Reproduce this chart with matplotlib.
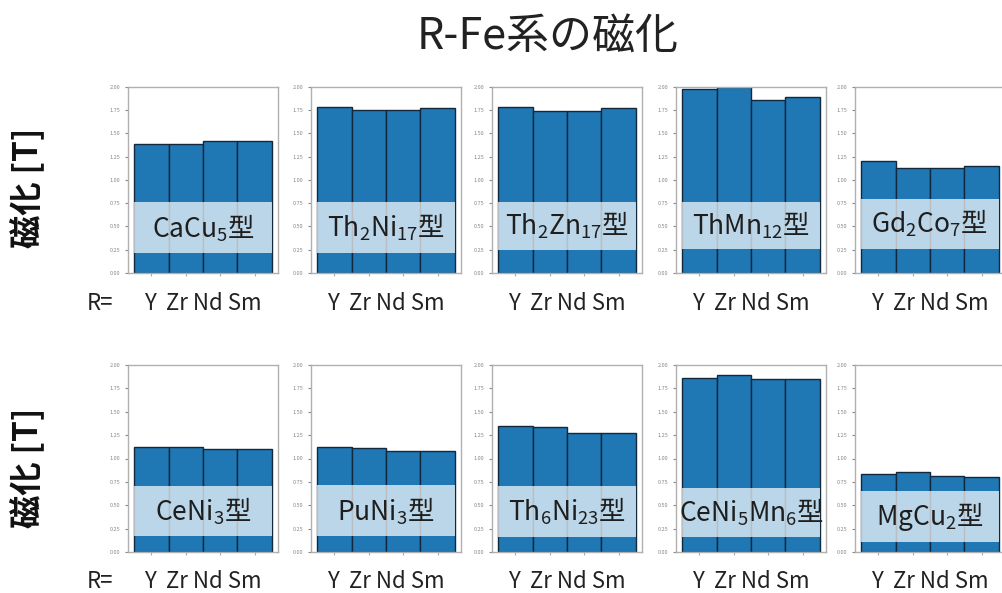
import matplotlib
matplotlib.use("Agg")
import matplotlib.pyplot as plt
from matplotlib.patches import Rectangle

plt.rcParams['font.family'] = ['Noto Sans CJK JP', 'DejaVu Sans']
plt.rcParams['mathtext.fontset'] = 'custom'
plt.rcParams['mathtext.rm'] = 'Noto Sans CJK JP'
plt.rcParams['mathtext.it'] = 'Noto Sans CJK JP'
plt.rcParams['mathtext.default'] = 'rm'

# R elements (x categories)
elements = ["Y", "Zr", "Nd", "Sm"]

# structure types, top row then bottom row
types_top = ["CaCu$_5$型", "Th$_2$Ni$_{17}$型", "Th$_2$Zn$_{17}$型",
             "ThMn$_{12}$型", "Gd$_2$Co$_7$型"]
types_bottom = ["CeNi$_3$型", "PuNi$_3$型", "Th$_6$Ni$_{23}$型",
                "CeNi$_5$Mn$_6$型", "MgCu$_2$型"]

# magnetization [T] for Y, Zr, Nd, Sm
mag_top = [
    [1.39, 1.39, 1.415, 1.415],
    [1.785, 1.753, 1.753, 1.77],
    [1.785, 1.745, 1.745, 1.77],
    [1.975, 1.995, 1.855, 1.89],
    [1.20, 1.13, 1.13, 1.15],
]
mag_bottom = [
    [1.12, 1.12, 1.10, 1.10],
    [1.123, 1.116, 1.084, 1.084],
    [1.346, 1.335, 1.268, 1.275],
    [1.86, 1.896, 1.85, 1.85],
    [0.836, 0.86, 0.815, 0.80],
]

# label band extent (y data units) for each panel
band_top = [(0.21, 0.76), (0.215, 0.767), (0.25, 0.767), (0.26, 0.764), (0.26, 0.80)]
band_bottom = [(0.17, 0.71), (0.168, 0.712), (0.16, 0.707), (0.16, 0.68), (0.11, 0.65)]

W, H = 1002, 593
fig = plt.figure(figsize=(W / 100, H / 100), dpi=100)

lefts = [128, 311, 492, 676, 855]
axw = 150
rows = [(273, 186, types_top, mag_top, band_top, 303),
        (552, 187, types_bottom, mag_bottom, band_bottom, 581)]

blue = "#1f77b4"
for (bot, hgt, names, vals, bands, lab_y) in rows:
    for i in range(5):
        ax = fig.add_axes([lefts[i] / W, 1 - bot / H, axw / W, hgt / H])
        x = range(len(elements))
        ax.bar(x, vals[i], width=1.0, color=blue, edgecolor="#13283c", linewidth=1.0)
        lo, hi = bands[i]
        ax.add_patch(Rectangle((-0.5, lo), 4.0, hi - lo, facecolor="white",
                               alpha=0.7, edgecolor="none", zorder=3))
        ax.text(1.5, (lo + hi) / 2, names[i], ha="center", va="center",
                fontsize=19, color="#1e1e1e", zorder=4)
        ax.set_xlim(-0.68, 3.68)
        ax.set_ylim(0, 2.0)
        ax.set_yticks([0, 0.25, 0.5, 0.75, 1.0, 1.25, 1.5, 1.75, 2.0])
        ax.set_yticklabels(["%.2f" % t for t in ax.get_yticks()])
        ax.tick_params(axis="y", labelsize=4, length=2, colors="#888888")
        ax.set_xticks(list(x))
        ax.set_xticklabels([])
        ax.tick_params(axis="x", length=2, colors="#aaaaaa")
        for s in ax.spines.values():
            s.set_color("#b0b0b0")
            s.set_linewidth(1.0)
        fig.text((lefts[i] + axw / 2) / W, 1 - lab_y / H, "Y  Zr Nd Sm",
                 ha="center", va="center", fontsize=16, color="#222222")
    fig.text(100 / W, 1 - lab_y / H, "R=", ha="center", va="center",
             fontsize=16, color="#222222")

fig.text(548 / W, 1 - 38 / H, "R-Fe系の磁化", ha="center", va="center",
         fontsize=31, color="#222222")
fig.text(28 / W, 1 - 188 / H, "磁化 [T]", ha="center", va="center",
         rotation=90, fontsize=24, fontweight="bold", color="#111111")
fig.text(28 / W, 1 - 468 / H, "磁化 [T]", ha="center", va="center",
         rotation=90, fontsize=24, fontweight="bold", color="#111111")

fig.savefig("out.png", dpi=100)
